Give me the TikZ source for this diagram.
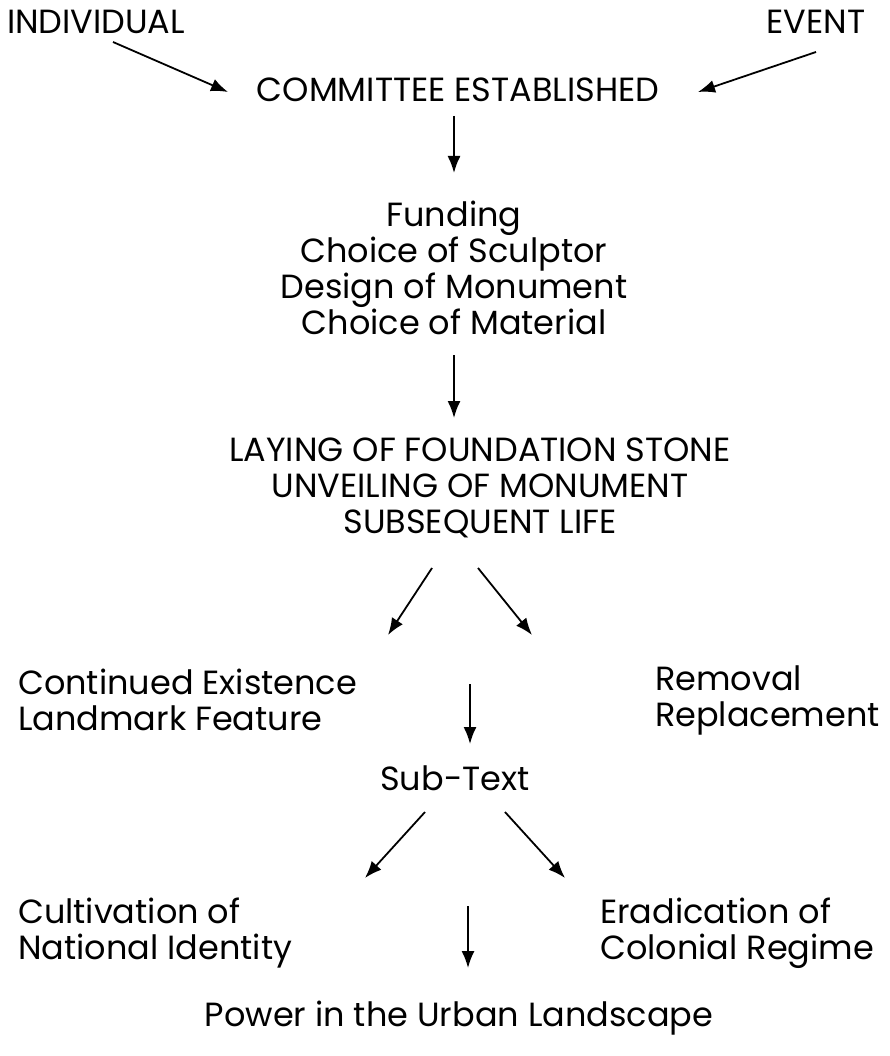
\documentclass[tikz,border=0pt]{standalone}
\usepackage{fontspec}
\setmainfont{Poppins}
\usepackage{tikz}
\usetikzlibrary{arrows.meta,positioning}

\begin{document}
\begin{tikzpicture}[x=1pt,y=-1pt,
lbl/.style={inner sep=0pt,font=\fontsize{33.5}{36}\selectfont},
arr/.style={-{Latex[length=17pt,width=13pt]},line width=1.8pt}]
\useasboundingbox (0,0) rectangle (890,1056);

\node[lbl] (ind) at (96,22) {INDIVIDUAL};
\node[lbl] (evt) at (816,22) {EVENT};
\node[lbl] (com) at (458,90) {COMMITTEE ESTABLISHED};
\node[lbl,align=center] (fund) at (454,268) {Funding\\Choice of Sculptor\\Design of Monument\\Choice of Material};
\node[lbl,align=center] (lay) at (480,488) {LAYING OF FOUNDATION STONE\\UNVEILING OF MONUMENT\\SUBSEQUENT LIFE};
\node[lbl,align=left,anchor=west] (cont) at (18,700) {Continued Existence\\Landmark Feature};
\node[lbl,align=left,anchor=west] (rem) at (655,700) {Removal\\Replacement};
\node[lbl] (sub) at (455,778) {Sub-Text};
\node[lbl,align=left,anchor=west] (cult) at (18,933) {Cultivation of\\National Identity};
\node[lbl,align=left,anchor=west] (erad) at (600,933) {Eradication of\\Colonial Regime};
\node[lbl] (pow) at (459,1018) {Power in the Urban Landscape};

% top row into the committee
\draw[arr] ([shift={(17,20)}]ind.center) -- ([shift={(-230,2)}]com.center);
\draw[arr] ([shift={(0,30)}]evt.center) -- ([shift={(240,2)}]com.center);
\draw[arr] ([shift={(-4,26)}]com.center) -- ([shift={(0,-95)}]fund.center);
\draw[arr] ([shift={(0,87)}]fund.center) -- ([shift={(-26,-70)}]lay.center);
% split after the monument
\draw[arr] ([shift={(-48,80)}]lay.center) -- ([shift={(-92,147)}]lay.center);
\draw[arr] ([shift={(-2,80)}]lay.center) -- ([shift={(52,147)}]lay.center);
\draw[arr] ([shift={(15,-94)}]sub.center) -- ([shift={(15,-34)}]sub.center);
% split after the sub-text
\draw[arr] ([shift={(-30,34)}]sub.center) -- ([shift={(-90,100)}]sub.center);
\draw[arr] ([shift={(50,34)}]sub.center) -- ([shift={(110,100)}]sub.center);
\draw[arr] ([shift={(9,-112)}]pow.center) -- ([shift={(9,-50)}]pow.center);
\end{tikzpicture}
\end{document}
